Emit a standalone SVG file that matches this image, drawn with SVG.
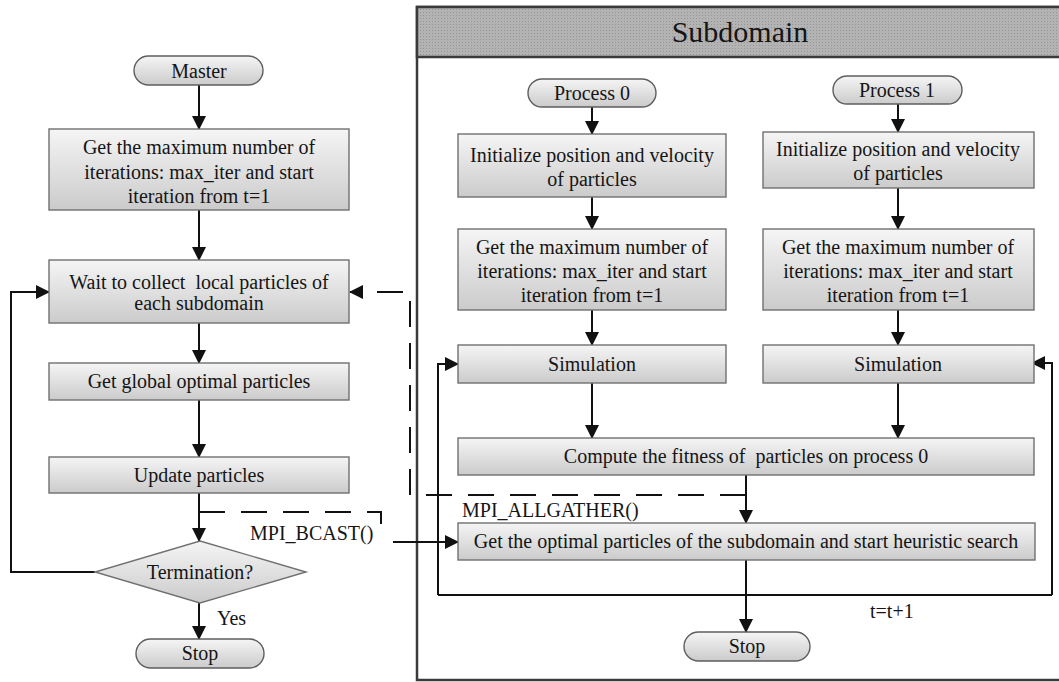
<svg xmlns="http://www.w3.org/2000/svg" width="1059" height="682" viewBox="0 0 1059 682">
  <defs>
    <linearGradient id="boxFill" x1="0" y1="0" x2="0" y2="1">
      <stop offset="0" stop-color="#f5f5f5"/>
      <stop offset="1" stop-color="#cbcbcb"/>
    </linearGradient>
    <pattern id="dots" width="3" height="3" patternUnits="userSpaceOnUse">
      <rect width="3" height="3" fill="#b3b3b3"/>
      <rect width="1" height="1" fill="#949494"/>
    </pattern>
    <marker id="arrow" markerUnits="userSpaceOnUse" markerWidth="15" markerHeight="15" refX="13" refY="7" orient="auto">
      <path d="M0,0 L14,7 L0,14 z" fill="#111"/>
    </marker>
    <style>
      .box { fill: url(#boxFill); stroke: #707070; stroke-width: 1.4; }
      .term { fill: url(#boxFill); stroke: #5e5e5e; stroke-width: 1.4; }
      .txt { font-family: "Liberation Serif", "Times New Roman", serif; font-size: 20px; fill: #151515; text-anchor: middle; }
      .lbl { font-family: "Liberation Serif", "Times New Roman", serif; font-size: 20px; fill: #151515; }
      .line { fill: none; stroke: #111; stroke-width: 2; }
      .dash { fill: none; stroke: #111; stroke-width: 2; stroke-dasharray: 26 16; }
    </style>
  </defs>

  <rect width="1059" height="682" fill="#fff"/>

  <!-- Subdomain frame -->
  <g id="subdomain">
    <rect x="417" y="7" width="645" height="673" fill="none" stroke="#3a3a3a" stroke-width="2.5"/>
    <rect x="417" y="7" width="645" height="50" fill="url(#dots)" stroke="#3a3a3a" stroke-width="2.5"/>
    <text class="txt" x="740" y="42" style="font-size:30px">Subdomain</text>
  </g>

  <!-- Connectors -->
  <g id="connectors">
    <!-- master column -->
    <path class="line" d="M199,85 V129" marker-end="url(#arrow)"/>
    <path class="line" d="M199,210 V260" marker-end="url(#arrow)"/>
    <path class="line" d="M199,323 V363" marker-end="url(#arrow)"/>
    <path class="line" d="M199,400 V457" marker-end="url(#arrow)"/>
    <path class="line" d="M199,493 V541" marker-end="url(#arrow)"/>
    <path class="line" d="M199,603 V639" marker-end="url(#arrow)"/>
    <path class="line" d="M95,572 H11 V292 H49" marker-end="url(#arrow)"/>

    <!-- process 0 column -->
    <path class="line" d="M592,107 V134" marker-end="url(#arrow)"/>
    <path class="line" d="M592,197 V229" marker-end="url(#arrow)"/>
    <path class="line" d="M592,310 V345" marker-end="url(#arrow)"/>
    <path class="line" d="M592,383 V438" marker-end="url(#arrow)"/>

    <!-- process 1 column -->
    <path class="line" d="M898,104 V132" marker-end="url(#arrow)"/>
    <path class="line" d="M898,188 V229" marker-end="url(#arrow)"/>
    <path class="line" d="M898,310 V345" marker-end="url(#arrow)"/>
    <path class="line" d="M898,383 V438" marker-end="url(#arrow)"/>

    <!-- fitness to optimal particles, then to stop -->
    <path class="line" d="M746,475 V523" marker-end="url(#arrow)"/>
    <path class="line" d="M746,560 V632" marker-end="url(#arrow)"/>

    <!-- iteration loop t=t+1 -->
    <path class="line" d="M438,595 H1052"/>
    <path class="line" d="M438,595 V364 H458" marker-end="url(#arrow)"/>
    <path class="line" d="M1052,595 V363 H1032" marker-end="url(#arrow)"/>

    <!-- MPI_ALLGATHER: subdomain results back to master -->
    <path class="dash" d="M746,495 H410 V292 H350" marker-end="url(#arrow)"/>

    <!-- MPI_BCAST: master broadcast into subdomain -->
    <path class="dash" d="M199,512 H381 V538"/>
    <path class="line" d="M393,542 H458" marker-end="url(#arrow)"/>
  </g>

  <!-- Master nodes -->
  <g id="master-start">
    <rect class="term" x="134" y="56" width="129" height="29" rx="14.5"/>
    <text class="txt" x="199" y="78">Master</text>
  </g>
  <g id="master-init">
    <rect class="box" x="49" y="129" width="300" height="81"/>
    <text class="txt" x="199" y="154">Get the maximum number of</text>
    <text class="txt" x="199" y="179">iterations: max_iter and start</text>
    <text class="txt" x="199" y="203">iteration from t=1</text>
  </g>
  <g id="master-collect">
    <rect class="box" x="49" y="260" width="300" height="63"/>
    <text class="txt" x="199" y="289" xml:space="preserve">Wait to collect  local particles of</text>
    <text class="txt" x="199" y="310">each subdomain</text>
  </g>
  <g id="master-global">
    <rect class="box" x="49" y="363" width="300" height="37"/>
    <text class="txt" x="199" y="388">Get global optimal particles</text>
  </g>
  <g id="master-update">
    <rect class="box" x="49" y="457" width="300" height="36"/>
    <text class="txt" x="199" y="482">Update particles</text>
  </g>
  <g id="master-termination">
    <polygon class="box" points="200,541 306,572 200,603 95,572"/>
    <text class="txt" x="200" y="579">Termination?</text>
  </g>
  <g id="master-stop">
    <rect class="term" x="136" y="639" width="128" height="29" rx="14.5"/>
    <text class="txt" x="200" y="660">Stop</text>
  </g>

  <!-- Subdomain nodes -->
  <g id="process0">
    <rect class="term" x="528" y="79" width="128" height="28" rx="14"/>
    <text class="txt" x="592" y="100">Process 0</text>
  </g>
  <g id="process1">
    <rect class="term" x="833" y="76" width="129" height="28" rx="14"/>
    <text class="txt" x="897" y="97">Process 1</text>
  </g>
  <g id="init0">
    <rect class="box" x="458" y="134" width="268" height="63"/>
    <text class="txt" x="592" y="162">Initialize position and velocity</text>
    <text class="txt" x="592" y="186">of particles</text>
  </g>
  <g id="init1">
    <rect class="box" x="763" y="132" width="271" height="56"/>
    <text class="txt" x="898" y="156">Initialize position and velocity</text>
    <text class="txt" x="898" y="180">of particles</text>
  </g>
  <g id="maxiter0">
    <rect class="box" x="458" y="229" width="268" height="81"/>
    <text class="txt" x="592" y="254">Get the maximum number of</text>
    <text class="txt" x="592" y="278">iterations: max_iter and start</text>
    <text class="txt" x="592" y="302">iteration from t=1</text>
  </g>
  <g id="maxiter1">
    <rect class="box" x="763" y="229" width="271" height="81"/>
    <text class="txt" x="898" y="254">Get the maximum number of</text>
    <text class="txt" x="898" y="278">iterations: max_iter and start</text>
    <text class="txt" x="898" y="302">iteration from t=1</text>
  </g>
  <g id="simulation0">
    <rect class="box" x="458" y="345" width="268" height="38"/>
    <text class="txt" x="592" y="371">Simulation</text>
  </g>
  <g id="simulation1">
    <rect class="box" x="763" y="345" width="271" height="38"/>
    <text class="txt" x="898" y="371">Simulation</text>
  </g>
  <g id="fitness">
    <rect class="box" x="458" y="438" width="576" height="37"/>
    <text class="txt" x="746" y="463" xml:space="preserve">Compute the fitness of  particles on process 0</text>
  </g>
  <g id="optimal">
    <rect class="box" x="458" y="523" width="577" height="37"/>
    <text class="txt" x="746" y="548">Get the optimal particles of the subdomain and start heuristic search</text>
  </g>
  <g id="sub-stop">
    <rect class="term" x="684" y="632" width="126" height="29" rx="14.5"/>
    <text class="txt" x="747" y="653">Stop</text>
  </g>

  <!-- Connector labels -->
  <g id="labels">
    <text class="lbl" x="462" y="517">MPI_ALLGATHER()</text>
    <text class="lbl" x="250" y="540">MPI_BCAST()</text>
    <text class="lbl" x="217" y="625">Yes</text>
    <text class="lbl" x="870" y="618">t=t+1</text>
  </g>
</svg>
